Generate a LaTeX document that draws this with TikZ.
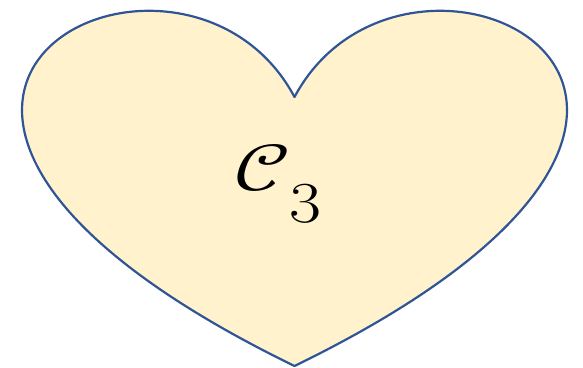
\documentclass[tikz,border=0pt]{standalone}
\usepackage{unicode-math}
\usepackage{graphicx}
\definecolor{heartfill}{HTML}{FFF2CC}
\definecolor{heartline}{HTML}{2F5597}
\tikzset{heartstyle/.style={draw=heartline, fill=heartfill, line width=2.2pt, line join=round}}
\begin{document}
\begin{tikzpicture}[x=1pt,y=-1pt]
\useasboundingbox (0,0) rectangle (583,367);
\coordinate (dip) at (294.5,97);
\coordinate (tip) at (294.5,366);
\path[heartstyle] (dip) .. controls (407.2,-114.5) and (846.8,97) .. (tip)
  .. controls (-257.8,97) and (181.8,-114.5) .. (dip) -- cycle;
\node[anchor=base west, inner sep=0pt] (label) at (234,190)
  {\fontsize{66}{66}\selectfont\scalebox{1.3}[1]{$\mathcal{C}$}\kern-1pt\raisebox{-32pt}{\fontsize{58}{58}\selectfont\scalebox{1.2}[1]{3}}};
\end{tikzpicture}
\end{document}
